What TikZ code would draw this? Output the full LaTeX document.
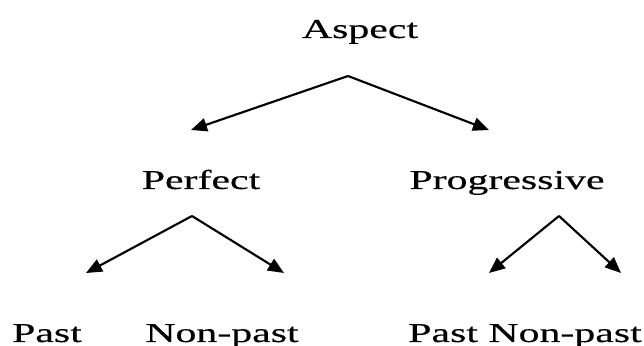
\documentclass[tikz,border=0pt]{standalone}
\usepackage{fontspec}
\setmainfont{Liberation Serif}
\newfontfamily\heavyserif{Liberation Serif}[FakeBold=0.3]
\usetikzlibrary{arrows.meta}
\tikzset{
  lbl/.style={anchor=base, inner sep=0pt, font=\heavyserif\fontsize{20.5}{24}\selectfont},
  branch/.style={line width=1.6pt, -{Triangle[length=12pt,width=10pt]}}
}
\newcommand{\wide}[1]{\scalebox{1.53}[1]{#1}}
\begin{document}
\begin{tikzpicture}[x=0.75pt, y=-0.75pt]
  \useasboundingbox (0,0) rectangle (644,346);
  % labels
  \node[lbl] (aspect) at (360,38) {\wide{Aspect}};
  \node[lbl] (perfect) at (201,189) {\wide{Perfect}};
  \node[lbl] (progressive) at (507,189) {\wide{Progressive}};
  \node[lbl] (past1) at (47,342) {\wide{Past}};
  \node[lbl] (nonpast1) at (222,342) {\wide{Non-past}};
  \node[lbl] (pastnonpast2) at (525,342) {\wide{Past Non-past}};
  % branch points
  \coordinate (aspectfork) at (348,76);
  \coordinate (perfectfork) at (192,216);
  \coordinate (progfork) at (559,216);
  \coordinate (perfectin) at (191,130);
  \coordinate (progin) at (489,130);
  \coordinate (past1in) at (86,273);
  \coordinate (nonpast1in) at (284,273);
  \coordinate (past2in) at (489,273);
  \coordinate (nonpast2in) at (621,273);
  % branches
  \draw[branch] (aspectfork) -- (perfectin);
  \draw[branch] (aspectfork) -- (progin);
  \draw[branch] (perfectfork) -- (past1in);
  \draw[branch] (perfectfork) -- (nonpast1in);
  \draw[branch] (progfork) -- (past2in);
  \draw[branch] (progfork) -- (nonpast2in);
\end{tikzpicture}
\end{document}
